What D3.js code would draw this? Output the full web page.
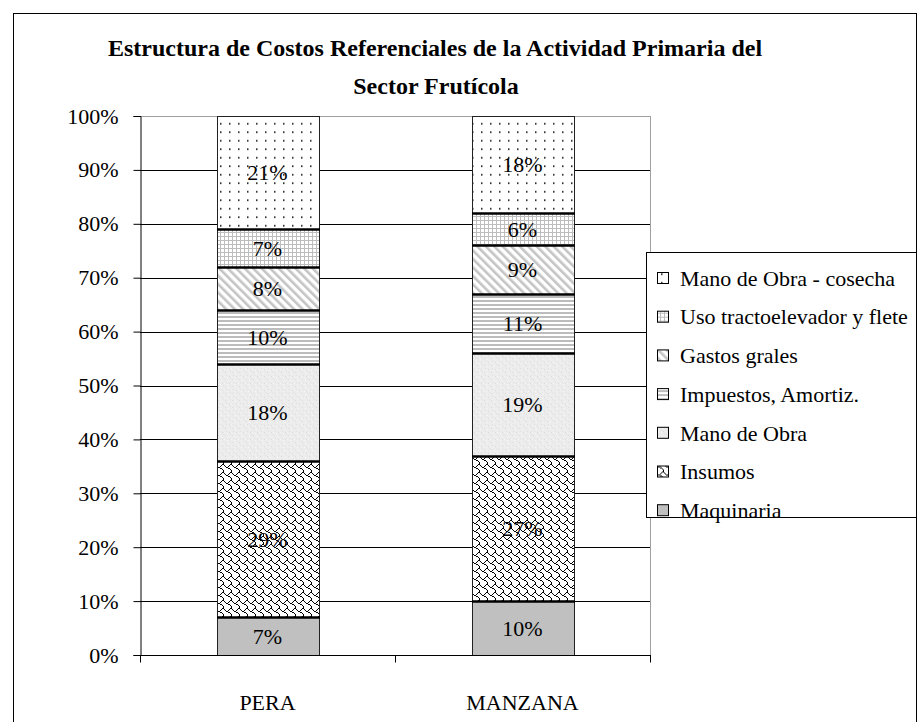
<!DOCTYPE html>
<html><head><meta charset="utf-8">
<script src="https://cdn.jsdelivr.net/npm/d3@7"></script>
<style>body{margin:0;background:#fff}svg{display:block}text{font-family:"Liberation Serif","Times New Roman",serif}</style>
</head><body><svg id="c" width="924" height="722"></svg>
<script>
const categories = ["PERA", "MANZANA"];
const seriesNames = ["Maquinaria", "Insumos", "Mano de Obra", "Impuestos, Amortiz.", "Gastos grales", "Uso tractoelevador y flete", "Mano de Obra - cosecha"];
const peraValues = [7, 29, 18, 10, 8, 7, 21];
const manzanaValues = [10, 27, 19, 11, 9, 6, 18];
const yTicks = [0, 10, 20, 30, 40, 50, 60, 70, 80, 90, 100];
const titleLines = ["Estructura de Costos Referenciales de la Actividad Primaria del", "Sector Frutícola"];
const patternIds = ["p0", "p1", "p2", "p3", "p4", "p5", "p6"];

const svg = d3.select("#c");
const W = 924, H = 722;
svg.append("rect").attr("width", W).attr("height", H).attr("fill", "#fff");

// ----- patterns -----
const defs = svg.append("defs");
// 0 solid gray
let p = defs.append("pattern").attr("id", "p0").attr("patternUnits", "userSpaceOnUse").attr("width", 4).attr("height", 4);
p.append("rect").attr("width", 4).attr("height", 4).attr("fill", "#c0c0c0");
// 1 shingle
p = defs.append("pattern").attr("id", "p1").attr("patternUnits", "userSpaceOnUse").attr("width", 8).attr("height", 8);
p.append("rect").attr("width", 8).attr("height", 8).attr("fill", "#fff");
const shingle = [0x03, 0x84, 0x48, 0x30, 0x0c, 0x02, 0x01, 0x01];
shingle.forEach((b, r) => { for (let c = 0; c < 8; c++) if (b & (0x80 >> c)) p.append("rect").attr("x", c).attr("y", r).attr("width", 1).attr("height", 1).attr("fill", "#000"); });
// 2 granite light gray
p = defs.append("pattern").attr("id", "p2").attr("patternUnits", "userSpaceOnUse").attr("width", 7).attr("height", 7);
p.append("rect").attr("width", 7).attr("height", 7).attr("fill", "#ececec");
[[1,1,"#dcdcdc"],[4,2,"#f7f7f7"],[2,4,"#e0e0e0"],[5,5,"#dadada"],[0,5,"#f5f5f5"],[6,0,"#e2e2e2"],[3,6,"#f6f6f6"]].forEach(d => p.append("rect").attr("x", d[0]).attr("y", d[1]).attr("width", 1).attr("height", 1).attr("fill", d[2]));
// 3 horizontal stripes
p = defs.append("pattern").attr("id", "p3").attr("patternUnits", "userSpaceOnUse").attr("width", 4).attr("height", 4);
p.append("rect").attr("width", 4).attr("height", 4).attr("fill", "#fff");
p.append("rect").attr("width", 4).attr("height", 2).attr("fill", "#bcbcbc");
// 4 diagonal stripes
p = defs.append("pattern").attr("id", "p4").attr("patternUnits", "userSpaceOnUse").attr("width", 6).attr("height", 6).attr("patternTransform", "rotate(-45)");
p.append("rect").attr("width", 6).attr("height", 6).attr("fill", "#fff");
p.append("rect").attr("width", 2.6).attr("height", 6).attr("fill", "#c4c4c4");
// 5 small grid
p = defs.append("pattern").attr("id", "p5").attr("patternUnits", "userSpaceOnUse").attr("width", 4).attr("height", 4);
p.append("rect").attr("width", 4).attr("height", 4).attr("fill", "#fff");
p.append("rect").attr("width", 4).attr("height", 1).attr("fill", "#bdbdbd");
p.append("rect").attr("width", 1).attr("height", 4).attr("fill", "#bdbdbd");
// 6 sparse dots
p = defs.append("pattern").attr("id", "p6").attr("patternUnits", "userSpaceOnUse").attr("width", 9).attr("height", 8.5);
p.append("rect").attr("width", 9).attr("height", 8.5).attr("fill", "#fff");
p.append("rect").attr("x", 4).attr("y", 4).attr("width", 1.5).attr("height", 1.5).attr("fill", "#000");

// ----- frame -----
svg.append("rect").attr("x", 13.5).attr("y", 13.5).attr("width", 903).attr("height", 720).attr("fill", "none").attr("stroke", "#000").attr("stroke-width", 1);

// ----- title -----
svg.append("text").attr("x", 435).attr("y", 56).attr("text-anchor", "middle").attr("font-size", 24).attr("font-weight", "bold").text(titleLines[0]);
svg.append("text").attr("x", 436).attr("y", 94).attr("text-anchor", "middle").attr("font-size", 24).attr("font-weight", "bold").text(titleLines[1]);

// ----- scales -----
const x = d3.scaleBand().domain(categories).range([140, 650]).paddingInner(0.6).paddingOuter(0.3);
const y = d3.scaleLinear().domain([0, 100]).range([655, 116]);
const [x0, x1] = x.range();

// gridlines
svg.append("g").selectAll("line").data(yTicks.filter(d => d > 0)).join("line")
  .attr("x1", x0).attr("x2", x1).attr("y1", d => Math.round(y(d)) + 0.5).attr("y2", d => Math.round(y(d)) + 0.5)
  .attr("stroke", d => d === 100 ? "#a0a0a0" : "#000").attr("stroke-width", 1);
svg.append("line").attr("x1", x1 + 0.5).attr("x2", x1 + 0.5).attr("y1", y(100)).attr("y2", y(0)).attr("stroke", "#a0a0a0");

// ----- stacked bars -----
const table = categories.map((c, i) => {
  const row = { cat: c };
  const vals = i === 0 ? peraValues : manzanaValues;
  seriesNames.forEach((s, j) => row[s] = vals[j]);
  return row;
});
const stack = d3.stack().keys(seriesNames)(table);
const segs = [];
stack.forEach((layer, si) => layer.forEach(d => segs.push({ si, cat: d.data.cat, y0: d[0], y1: d[1], v: d.data[seriesNames[si]] })));

const bars = svg.append("g");
bars.selectAll("rect").data(segs).join("rect")
  .attr("x", d => Math.round(x(d.cat)) + 0.5)
  .attr("y", d => Math.round(y(d.y1)) + 0.5)
  .attr("width", Math.round(x.bandwidth()))
  .attr("height", d => Math.round(y(d.y0)) - Math.round(y(d.y1)))
  .attr("fill", d => `url(#${patternIds[d.si]})`)
  .attr("stroke", "#222").attr("stroke-width", 1);
// thick separators between segments
bars.selectAll("line").data(segs.filter(d => d.y0 > 0)).join("line")
  .attr("x1", d => Math.round(x(d.cat))).attr("x2", d => Math.round(x(d.cat)) + Math.round(x.bandwidth()) + 1)
  .attr("y1", d => Math.round(y(d.y0)) + 0.5).attr("y2", d => Math.round(y(d.y0)) + 0.5)
  .attr("stroke", "#000").attr("stroke-width", 2.5);
// labels
bars.selectAll("text").data(segs).join("text")
  .attr("x", d => x(d.cat) + x.bandwidth() / 2)
  .attr("y", d => y((d.y0 + d.y1) / 2))
  .attr("dy", "0.35em").attr("text-anchor", "middle").attr("font-size", 22).attr("fill", "#000")
  .text(d => d.v + "%");

// ----- axes -----
const yAxis = svg.append("g").attr("transform", "translate(140.5,0)")
  .call(d3.axisLeft(y).tickValues(yTicks).tickSize(7).tickPadding(15).tickFormat(d => d + "%"));
yAxis.selectAll("text").attr("font-size", 22).attr("font-family", "Liberation Serif").attr("fill", "#000");
yAxis.selectAll("line,path").attr("stroke", "#000");

const xg = svg.append("g").attr("transform", `translate(0,${Math.round(y(0)) + 0.5})`);
xg.append("line").attr("x1", x0).attr("x2", x1 + 1).attr("stroke", "#000");
const bounds = [x0].concat(categories.map(c => x(c) - x.step() * x.paddingOuter() + x.step()));
xg.selectAll("line.t").data(bounds).join("line").attr("class", "t")
  .attr("x1", d => Math.round(d) + 0.5).attr("x2", d => Math.round(d) + 0.5).attr("y1", 0).attr("y2", 7).attr("stroke", "#000");
xg.selectAll("text").data(categories).join("text")
  .attr("x", d => x(d) + x.bandwidth() / 2).attr("y", 54)
  .attr("text-anchor", "middle").attr("font-size", 22).attr("fill", "#000").text(d => d);

// ----- legend -----
const lg = svg.append("g");
lg.append("rect").attr("x", 646.5).attr("y", 252.5).attr("width", 270).attr("height", 265).attr("fill", "#fff").attr("stroke", "#000");
const legendOrder = seriesNames.map((s, i) => i).reverse();
const li = lg.selectAll("g.item").data(legendOrder).join("g").attr("class", "item")
  .attr("transform", (d, i) => `translate(0,${278 + i * 38.7})`);
li.append("rect").attr("x", 657.5).attr("y", -5.5).attr("width", 11).attr("height", 11)
  .attr("fill", d => `url(#${patternIds[d]})`).attr("stroke", "#000");
li.append("text").attr("x", 680).attr("y", 0).attr("dy", "0.35em").attr("font-size", 22).attr("fill", "#000").text(d => seriesNames[d]);
</script></body></html>
